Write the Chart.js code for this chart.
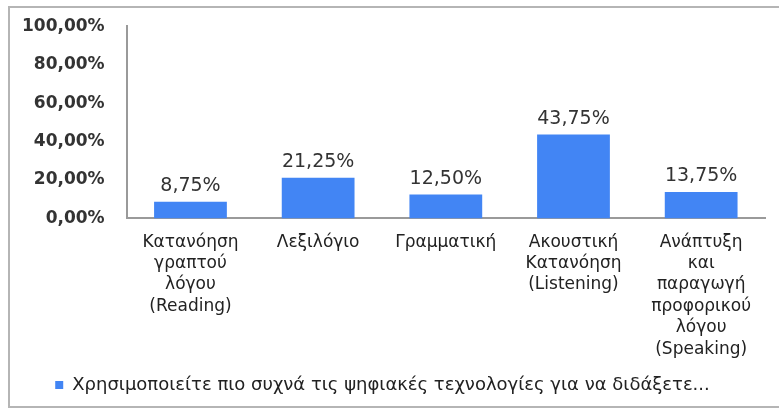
<!DOCTYPE html>
<html>
<head>
<meta charset="utf-8">
<script src="https://cdn.jsdelivr.net/npm/chart.js@4"></script>
<style>
    body { margin: 0; background: #fff; }
    #frame {
        position: absolute; left: 8px; top: 6px; width: 790px; height: 398px;
        border-left: 2px solid #b5b5b5; border-top: 2px solid #b5b5b5; border-bottom: 2px solid #b5b5b5;
    }
    #chart { position: absolute; left: 0; top: 0; }
</style>
</head>
<body>
<div id="frame"></div>
<canvas id="chart" width="779" height="410"></canvas>
<script>
const categories = [
    ['Κατανόηση', 'γραπτού', 'λόγου', '(Reading)'],
    ['Λεξιλόγιο'],
    ['Γραμματική'],
    ['Ακουστική', 'Κατανόηση', '(Listening)'],
    ['Ανάπτυξη', 'και', 'παραγωγή', 'προφορικού', 'λόγου', '(Speaking)']
];
const percentages = [8.75, 21.25, 12.50, 43.75, 13.75];
const seriesName = 'Χρησιμοποιείτε πιο συχνά τις ψηφιακές τεχνολογίες για να διδάξετε...';
const yTicks = [0, 20, 40, 60, 80, 100];

const fmt = v => v.toFixed(2).replace('.', ',') + '%';

// value labels above each bar
const barLabels = {
    id: 'barLabels',
    afterDatasetsDraw(chart) {
        const ctx = chart.ctx;
        const meta = chart.getDatasetMeta(0);
        ctx.save();
        ctx.font = '19px "DejaVu Sans"';
        ctx.fillStyle = '#333';
        ctx.textAlign = 'center';
        ctx.textBaseline = 'bottom';
        meta.data.forEach((bar, i) => {
            ctx.fillText(fmt(percentages[i]), bar.x, bar.y - 6);
        });
        ctx.restore();
    }
};

new Chart(document.getElementById('chart'), {
    type: 'bar',
    data: {
        labels: categories,
        datasets: [{
            label: seriesName,
            data: percentages,
            backgroundColor: '#4285f4',
            categoryPercentage: 1,
            barPercentage: 0.57
        }]
    },
    options: {
        responsive: false,
        animation: false,
        layout: { padding: { left: 0, right: 14, top: 6, bottom: 6 } },
        plugins: {
            tooltip: { enabled: false },
            legend: {
                position: 'bottom',
                labels: {
                    boxWidth: 8,
                    boxHeight: 8,
                    color: '#222',
                    font: { family: 'DejaVu Sans', size: 18 },
                    padding: 3
                }
            }
        },
        scales: {
            y: {
                min: 0,
                max: 100,
                afterBuildTicks: axis => { axis.ticks = yTicks.map(v => ({ value: v })); },
                grid: { display: false, drawTicks: false },
                border: { display: true, color: '#9a9a9a', width: 2 },
                ticks: {
                    padding: 22,
                    color: '#333',
                    font: { family: 'DejaVu Sans', size: 17, weight: 'bold', lineHeight: 0.5 },
                    callback: v => fmt(v)
                }
            },
            x: {
                grid: { display: false, drawTicks: false },
                border: { display: true, color: '#9a9a9a', width: 2 },
                ticks: {
                    padding: 13,
                    maxRotation: 0,
                    autoSkip: false,
                    color: '#222',
                    font: { family: 'DejaVu Sans', size: 17, lineHeight: 1.26 }
                }
            }
        }
    },
    plugins: [barLabels]
});
</script>
</body>
</html>
